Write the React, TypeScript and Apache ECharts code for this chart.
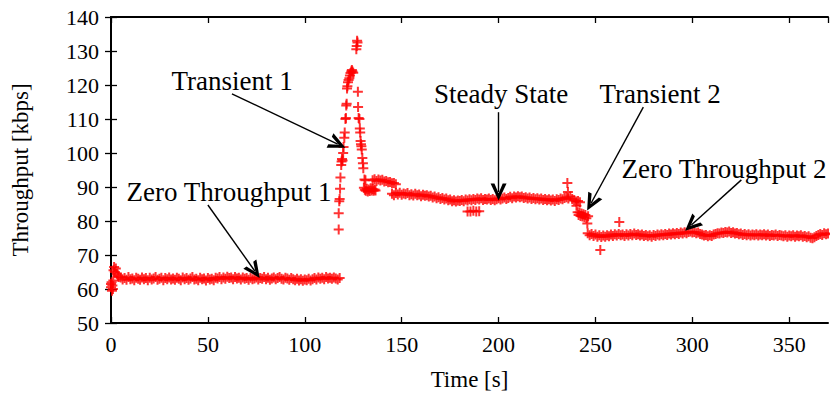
import React, { useEffect, useRef } from "react";
import * as echarts from "echarts";

// ---- Data (time [s], throughput [kbps]) ----
const startup: [number, number][] = [
  [0, 61.5], [0, 60.5], [0.3, 62], [0.5, 59.5], [0.7, 61], [1, 60], [1.2, 62.5],
  [1.3, 65.5], [1.6, 66.5], [2, 65], [2.5, 66], [3, 64.5], [3.5, 64], [4, 63.5],
];

const zero1Start = 5;
const zero1 = [
  63.4, 62.8, 63.2, 62.7, 63.5, 62.9, 63.1, 62.6, 63.3, 63.0,
  62.7, 63.4, 62.9, 63.2, 62.6, 63.3, 62.8, 63.1, 63.5, 62.7,
  63.0, 63.3, 62.6, 63.2, 62.9, 63.4, 62.8, 63.1, 62.7, 63.3,
  63.0, 62.6, 63.4, 62.9, 63.2, 62.7, 63.1, 63.5, 62.8, 63.0,
  62.6, 63.3, 62.9, 63.1, 62.5, 63.2, 62.8, 63.0, 62.6, 63.3,
  63.1, 63.5, 62.9, 63.4, 63.0, 63.6, 63.2, 63.4, 62.9, 63.5,
  63.1, 63.3, 62.8, 63.4, 63.0, 63.2, 62.7, 63.3, 62.9, 63.1,
  63.4, 62.8, 63.2, 63.0, 63.5, 62.9, 63.3, 62.7, 63.1, 63.4,
  62.9, 63.2, 63.5, 63.0, 62.8, 63.3, 63.1, 62.7, 63.2, 62.9,
  62.6, 63.0, 62.5, 62.9, 62.4, 62.8, 62.6, 63.0, 62.5, 62.9,
  63.2, 62.8, 63.4, 63.0, 63.3, 62.9, 63.5, 63.1, 63.3, 63.0,
  63.4, 63.1, 62.8, 63.2,
];

const transient1: [number, number][] = [
  [117.5, 77.5], [117.5, 82.3], [117.8, 85.8], [118, 86.5], [118.2, 89.5], [118.4, 92.8],
  [118.8, 96.5], [119, 97.5], [119.2, 98.2], [119.5, 97.8], [119.8, 100], [120, 101.8],
  [120.4, 104.5], [120.6, 106], [121, 110], [121.2, 110.3], [121.4, 114], [121.6, 114.5],
  [121.8, 119], [122, 119.6], [122.3, 120.8], [122.6, 121.5], [123, 122], [123.3, 122.8],
  [123.6, 123.5], [124, 124], [124.3, 124.4], [124.6, 124], [125, 123.6], [126.6, 130.5],
  [126.8, 131.5], [127, 133], [127.2, 132.5], [127.4, 118], [127.5, 113.5], [127.8, 110.3],
  [128.2, 110], [128.4, 107.2], [128.6, 106], [128.8, 103.5], [129, 102.6], [129.2, 102],
  [129.4, 101], [129.7, 98.5], [130, 97], [130.2, 95.5], [130.8, 92.2], [131.3, 92],
];

const dip89: [number, number][] = [
  [130.5, 89.8], [131, 89.2], [131.5, 88.9], [132, 89.5], [132.5, 88.7], [133, 89.3],
  [133.5, 88.8], [134, 89.6], [134.5, 89.0], [135, 89.4], [135.5, 88.9], [136, 89.3], [136.5, 89.0],
];

const plateauStart = 135;
const plateau92 = [92.0, 92.3, 91.8, 92.2, 91.9, 92.1, 91.6, 91.8, 91.4, 91.5, 91.1, 91.2, 90.8];

const steadyStart = 145;
const steady = [
  88.0, 87.6, 88.2, 87.8, 88.3, 87.7, 88.1, 87.9, 88.2, 87.6,
  87.9, 87.5, 88.0, 87.6, 87.8, 87.3, 87.7, 87.4, 87.6, 87.2,
  87.4, 86.9, 87.2, 86.7, 87.0, 86.5, 86.8, 86.3, 86.6, 86.1,
  86.3, 85.8, 86.1, 85.7, 86.0, 85.9, 86.2, 85.8, 86.3, 86.0,
  86.4, 86.1, 86.5, 86.2, 86.6, 86.3, 86.7, 86.2, 86.5, 86.3,
  86.6, 86.2, 86.5, 86.1, 86.4, 86.7, 86.3, 86.6, 86.9, 86.5,
  86.8, 87.1, 86.7, 87.2, 86.9, 87.3, 87.0, 87.2, 86.8, 87.0,
  86.6, 86.9, 86.5, 86.8, 86.4, 86.7, 86.3, 86.6, 86.2, 86.5,
  86.1, 86.4, 86.0, 86.3, 85.9, 86.4, 86.2, 86.6, 86.4, 86.8,
  87.0, 86.6, 87.2, 86.5, 86.1, 85.7, 85.9, 85.5,
];

const steadyOutliers: [number, number][] = [
  [184, 82.8], [185.5, 82.8], [187, 83], [188.5, 82.8], [190, 82.9], [235.5, 91.2], [235.8, 88.5],
];

const transient2: [number, number][] = [
  [240.2, 84.5], [240.8, 82.6], [241.3, 81.8], [241.8, 82.5], [242.3, 81.5], [242.8, 82.2],
  [243.3, 81.3], [243.8, 82.0], [244.3, 81.1], [244.8, 81.8], [245.3, 80.8], [245.8, 79.3], [246.2, 81.4],
];

const zero2Start = 246;
const zero2 = [
  76.4, 75.8, 76.2, 75.6, 76.0, 75.4, 75.8, 75.3, 75.7, 75.4,
  75.8, 75.5, 76.0, 75.6, 76.1, 75.7, 76.2, 75.8, 76.0, 75.6,
  76.1, 75.7, 76.2, 75.8, 76.3, 75.9, 76.1, 75.7, 76.0, 75.6,
  75.9, 75.5, 75.8, 75.4, 75.9, 75.6, 76.0, 75.7, 76.1, 75.8,
  76.2, 75.9, 76.3, 76.0, 76.4, 76.1, 76.5, 76.2, 76.6, 76.3,
  76.7, 76.4, 76.8, 76.9, 76.6, 76.8, 76.4, 76.6, 76.2, 76.0,
  75.7, 75.9, 75.5, 75.8, 75.6, 76.0, 76.2, 76.4, 76.3, 76.6,
  76.5, 76.8, 76.6, 76.9, 76.5, 76.7, 76.3, 76.5, 76.1, 76.3,
  75.9, 76.2, 75.8, 76.1, 75.7, 76.0, 75.8, 76.1, 75.7, 76.0,
  75.8, 76.1, 75.7, 76.0, 75.6, 75.9, 75.7, 76.0, 75.6, 75.9,
  75.7, 75.5, 75.8, 75.4, 75.7, 75.5, 75.8, 75.4, 75.7, 75.5,
  75.8, 75.4, 75.6, 75.2, 75.5, 75.1, 74.9, 75.2, 75.6, 75.9,
  76.2, 75.9, 76.4, 76.1, 76.3,
];

const zero2Outliers: [number, number][] = [[252.5, 71.5], [262.3, 79.7]];

// Annotation arrows: [label, fromTime, fromValue, toTime, toValue]
const arrows: [string, number, number, number, number][] = [
  ["Transient 1", 62.4, 117.4, 117, 102.6],
  ["Zero Throughput 1", 50, 84.7, 74.2, 65.3],
  ["Steady State", 200, 112, 200, 88.5],
  ["Transient 2", 274.7, 113.5, 247.8, 85.3],
  ["Zero Throughput 2", 325.3, 92.1, 299.5, 78.8],
];

const xTicks = { min: 0, max: 370, interval: 50 };
const yTicks = { min: 50, max: 140, interval: 10 };

const FONT = "'Liberation Serif', 'Times New Roman', serif";

const PLUS = "path://M4,0H6V4H10V6H6V10H4V6H0V4H4Z";
const CHEVRON = "path://M5,0L10.6,12L7.9,12L5,5.2L2.1,12L-0.6,12Z";

function seq(start: number, vals: number[]): [number, number][] {
  return vals.map((v, i) => [start + i, v]);
}

export default function App() {
  const ref = useRef<HTMLDivElement>(null);
  useEffect(() => {
    document.body.style.margin = "0";
    const chart = echarts.init(ref.current!, undefined, { renderer: "svg" });
    const points = [
      ...startup,
      ...seq(zero1Start, zero1),
      ...transient1,
      ...dip89,
      ...seq(plateauStart, plateau92),
      ...seq(steadyStart, steady),
      ...steadyOutliers,
      ...transient2,
      ...seq(zero2Start, zero2),
      ...zero2Outliers,
    ];
    const axisLine = { show: true, lineStyle: { color: "#000", width: 2 } };
    const tick = { show: true, inside: true, length: 6, lineStyle: { color: "#000", width: 1.3 } };
    chart.setOption({
      animation: false,
      backgroundColor: "#fff",
      grid: { left: 111, right: 2, top: 17, bottom: 74, show: false },
      xAxis: [
        {
          type: "value", ...xTicks, position: "bottom",
          name: "Time [s]", nameLocation: "middle", nameGap: 45,
          nameTextStyle: { fontFamily: FONT, fontSize: 23, color: "#000" },
          axisLine, axisTick: tick, splitLine: { show: false },
          axisLabel: { fontFamily: FONT, fontSize: 22, color: "#000", margin: 10, showMaxLabel: false },
        },
        {
          type: "value", ...xTicks, position: "top",
          axisLine, axisTick: tick, splitLine: { show: false }, axisLabel: { show: false },
        },
      ],
      yAxis: [
        {
          type: "value", ...yTicks, position: "left",
          name: "Throughput [kbps]", nameLocation: "middle", nameGap: 79, nameRotate: 90,
          nameTextStyle: { fontFamily: FONT, fontSize: 23, color: "#000" },
          axisLine, axisTick: tick, splitLine: { show: false },
          axisLabel: { fontFamily: FONT, fontSize: 22, color: "#000", margin: 12 },
        },
        {
          type: "value", ...yTicks, position: "right",
          axisLine, axisTick: tick, splitLine: { show: false }, axisLabel: { show: false },
        },
      ],
      series: [
        {
          type: "scatter",
          data: points,
          symbol: PLUS,
          symbolSize: 10,
          itemStyle: { color: "#ff0000" },
          silent: true,
          clip: false,
        },
        {
          type: "scatter",
          data: [],
          silent: true,
          markLine: {
            silent: true,
            symbol: ["none", CHEVRON],
            symbolSize: [16, 17],
            label: { show: false },
            lineStyle: { color: "#000", width: 1.4, type: "solid" },
            emphasis: { disabled: true },
            data: arrows.map((a) => [{ coord: [a[1], a[2]] }, { coord: [a[3], a[4]] }]),
          },
        },
      ],
    });
    const labelPos: Record<string, [number, number]> = {
      "Transient 1": [232, 81],
      "Zero Throughput 1": [229, 192],
      "Steady State": [501, 94],
      "Transient 2": [660, 94],
      "Zero Throughput 2": [724, 169],
    };
    chart.setOption({
      graphic: arrows.map((a) => ({
        type: "text",
        x: labelPos[a[0]][0],
        y: labelPos[a[0]][1],
        silent: true,
        style: {
          text: a[0],
          font: `27px ${FONT}`,
          fill: "#000",
          align: "center",
          verticalAlign: "middle",
        },
      })),
    });
    return () => chart.dispose();
  }, []);
  return (
    <div
      ref={ref}
      style={{ position: "fixed", left: 0, top: 0, width: 830, height: 397, background: "#fff" }}
    />
  );
}
